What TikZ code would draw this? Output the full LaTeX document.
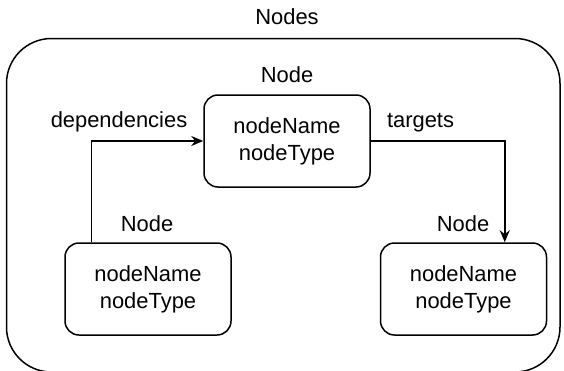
\documentclass[tikz,border=0pt]{standalone}
\usepackage{fontspec}
\setmainfont{Liberation Sans}
\usepackage{tikz}
\usetikzlibrary{arrows.meta}
\tikzset{>={Stealth[length=12bp,width=10bp]}}
\tikzset{%
    box/.style={%
        draw, line width=1.5bp, rounded corners=14bp,
        minimum width=166bp, minimum height=92bp,
        align=center, font=\fontsize{22}{27}\selectfont
    },
    lbl/.style={font=\fontsize{22}{27}\selectfont, inner sep=0pt}
}

\begin{document}
\begin{tikzpicture}[x=1bp,y=1bp]
\useasboundingbox (0,0) rectangle (564,370);
% outer group
\draw[line width=1.5bp, rounded corners=45bp] (6.5,-2) rectangle (560,331.5);
\node[lbl] (groupname) at (287,353) {Nodes};
% the three nodes
\node[box] (topnode)   at (287,229)   {nodeName\\nodeType};
\node[box] (leftnode)  at (148,81)    {nodeName\\nodeType};
\node[box] (rightnode) at (463.5,81)  {nodeName\\nodeType};
\node[lbl] (toplabel)   at (287,295) {Node};
\node[lbl] (leftlabel)  at (147,146) {Node};
\node[lbl] (rightlabel) at (463,146) {Node};
% connectors
\draw[line width=1.5bp,->] ([xshift=27bp]leftnode.north west) |- (topnode.west);
\draw[line width=1.5bp,->] (topnode.east) -| ([xshift=125bp]rightnode.north west);
\node[lbl] (deplabel) at (119,248) {dependencies};
\node[lbl] (tgtlabel) at (420.5,247) {targets};
\end{tikzpicture}
\end{document}
